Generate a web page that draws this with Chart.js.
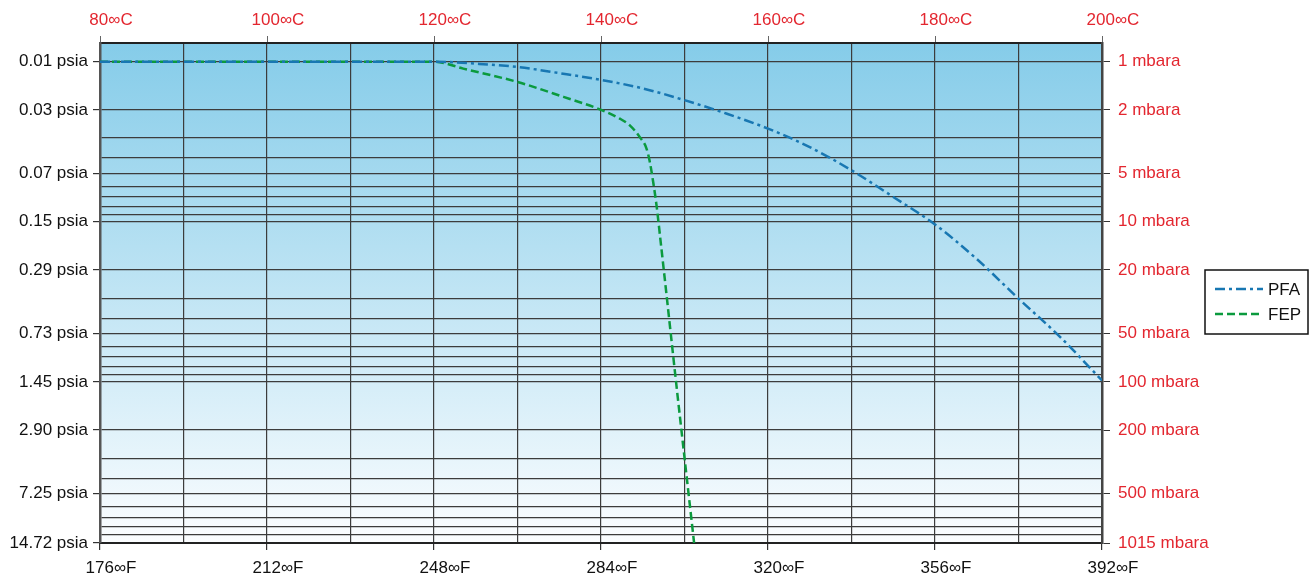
<!DOCTYPE html>
<html>
<head>
<meta charset="utf-8">
<script src="https://cdn.jsdelivr.net/npm/chart.js@4"></script>
<style>
  html, body { margin: 0; padding: 0; background: #fff; }
  #wrap { width: 1310px; height: 578px; position: relative; }
</style>
</head>
<body>
<div id="wrap"><canvas id="vacChart"></canvas></div>
<script>
// temperatures in degrees C, pressures in mbar (absolute)
const pfaTempC = [80, 100, 120, 125, 130, 135, 140, 145, 150, 155, 160, 165, 170, 175, 180, 185, 190, 195, 200];
const pfaMbar  = [1, 1, 1, 1.03, 1.08, 1.18, 1.30, 1.47, 1.74, 2.11, 2.62, 3.42, 4.77, 7.0, 10.4, 17.1, 30.2, 52.5, 98];

const fepTempC = [80, 100, 120, 123.5, 130, 135.5, 140, 142.25, 143.45, 144.65, 145.45, 145.85, 146.25, 146.65, 147.1, 149.1, 151.15];
const fepMbar  = [1, 1, 1, 1.106, 1.34, 1.66, 2.0, 2.27, 2.50, 2.96, 3.49, 4.24, 5.65, 7.9, 12.7, 113, 1015];

// y axis: grid lines and labelled ticks
const gridMbar = [1, 2, 3, 4, 5, 6, 7, 8, 9, 10, 20, 30, 40, 50, 60, 70, 80, 90, 100, 200, 300, 400, 500, 600, 700, 800, 900, 1015];
const mbarTicks = [1, 2, 5, 10, 20, 50, 100, 200, 500, 1015];
const psiaLabels = ['0.01 psia', '0.03 psia', '0.07 psia', '0.15 psia', '0.29 psia', '0.73 psia', '1.45 psia', '2.90 psia', '7.25 psia', '14.72 psia'];
const mbarLabels = ['1 mbara', '2 mbara', '5 mbara', '10 mbara', '20 mbara', '50 mbara', '100 mbara', '200 mbara', '500 mbara', '1015 mbara'];

const RED = '#e3262f';
const GRID = '#3c3c3c';
const FONT = { family: 'Arial, "Liberation Sans", sans-serif', size: 17 };

const toPoints = (xs, ys) => xs.map((x, i) => ({ x: x, y: ys[i] }));

const bgGradient = {
  id: 'bgGradient',
  beforeDraw(chart) {
    const { ctx, chartArea: a } = chart;
    const g = ctx.createLinearGradient(0, a.top, 0, a.bottom);
    g.addColorStop(0, '#85cce9');
    g.addColorStop(1, '#fbfdff');
    ctx.save();
    ctx.fillStyle = g;
    ctx.fillRect(a.left, a.top, a.right - a.left, a.bottom - a.top);
    ctx.restore();
  }
};

const sideLegend = {
  id: 'sideLegend',
  afterDraw(chart) {
    const ctx = chart.ctx;
    const x = 1205, y = 270, w = 103, h = 64;
    ctx.save();
    ctx.strokeStyle = '#111';
    ctx.lineWidth = 1.5;
    ctx.strokeRect(x, y, w, h);
    chart.data.datasets.forEach((ds, i) => {
      const ly = y + 19 + i * 25;
      ctx.beginPath();
      ctx.setLineDash(ds.borderDash);
      ctx.strokeStyle = ds.borderColor;
      ctx.lineWidth = 2.5;
      ctx.moveTo(x + 10, ly);
      ctx.lineTo(x + 58, ly);
      ctx.stroke();
      ctx.setLineDash([]);
      ctx.fillStyle = '#111';
      ctx.font = '17px Arial, "Liberation Sans", sans-serif';
      ctx.textBaseline = 'middle';
      ctx.fillText(ds.label, x + 63, ly + 1);
    });
    ctx.restore();
  }
};

const yTicks = (scale) => { scale.ticks = gridMbar.map(v => ({ value: v })); };
const yTickColor = (c) => (c.tick && mbarTicks.includes(c.tick.value)) ? '#333' : 'rgba(0,0,0,0)';

new Chart(document.getElementById('vacChart').getContext('2d'), {
  type: 'line',
  data: {
    datasets: [{
      label: 'PFA',
      data: toPoints(pfaTempC, pfaMbar),
      borderColor: '#1877b2',
      borderWidth: 2.5,
      borderDash: [10, 4, 3, 4],
      pointRadius: 0,
      cubicInterpolationMode: 'monotone',
      xAxisID: 'x',
      yAxisID: 'y'
    }, {
      label: 'FEP',
      data: toPoints(fepTempC, fepMbar),
      borderColor: '#0b9a3e',
      borderWidth: 2.5,
      borderDash: [8, 4],
      pointRadius: 0,
      cubicInterpolationMode: 'monotone',
      xAxisID: 'x',
      yAxisID: 'y'
    }]
  },
  options: {
    responsive: true,
    maintainAspectRatio: false,
    animation: false,
    layout: { padding: 0 },
    plugins: {
      legend: { display: false },
      tooltip: { enabled: false }
    },
    scales: {
      x: {
        type: 'linear',
        position: 'bottom',
        min: 80, max: 200,
        afterFit: (s) => { s.height = 35; },
        border: { display: true, color: '#222', width: 2 },
        grid: {
          color: GRID, lineWidth: 1.2, tickLength: 7,
          tickColor: (c) => (c.tick && c.tick.value % 20 === 0) ? '#333' : 'rgba(0,0,0,0)'
        },
        ticks: {
          stepSize: 10, autoSkip: false, maxRotation: 0, padding: 8,
          labelOffset: 11, color: '#111', font: FONT,
          callback: (v) => v % 20 === 0 ? (v * 9 / 5 + 32) + '∞F' : ''
        }
      },
      x2: {
        type: 'linear',
        position: 'top',
        min: 80, max: 200,
        afterFit: (s) => { s.height = 43; },
        border: { display: true, color: '#222', width: 2 },
        grid: { drawOnChartArea: false, tickLength: 7, tickColor: '#666' },
        ticks: {
          stepSize: 20, autoSkip: false, maxRotation: 0, padding: 5,
          labelOffset: 11, color: RED, font: FONT,
          callback: (v) => v + '∞C'
        }
      },
      y: {
        type: 'logarithmic',
        position: 'left',
        reverse: true,
        min: 0.765, max: 1015,
        afterFit: (s) => { s.width = 100; },
        afterBuildTicks: yTicks,
        border: { display: true, color: '#555', width: 2.5 },
        grid: { color: GRID, lineWidth: 1.2, tickLength: 7, tickColor: yTickColor },
        ticks: {
          autoSkip: false, padding: 5, color: '#111', font: FONT,
          callback: (v) => { const i = mbarTicks.indexOf(v); return i >= 0 ? psiaLabels[i] : ''; }
        }
      },
      y2: {
        type: 'logarithmic',
        position: 'right',
        reverse: true,
        min: 0.765, max: 1015,
        afterFit: (s) => { s.width = 208; },
        afterBuildTicks: yTicks,
        border: { display: true, color: '#444', width: 2.5 },
        grid: { drawOnChartArea: false, tickLength: 8, tickColor: yTickColor },
        ticks: {
          autoSkip: false, padding: 8, color: RED, font: FONT,
          callback: (v) => { const i = mbarTicks.indexOf(v); return i >= 0 ? mbarLabels[i] : ''; }
        }
      }
    }
  },
  plugins: [bgGradient, sideLegend]
});
</script>
</body>
</html>
